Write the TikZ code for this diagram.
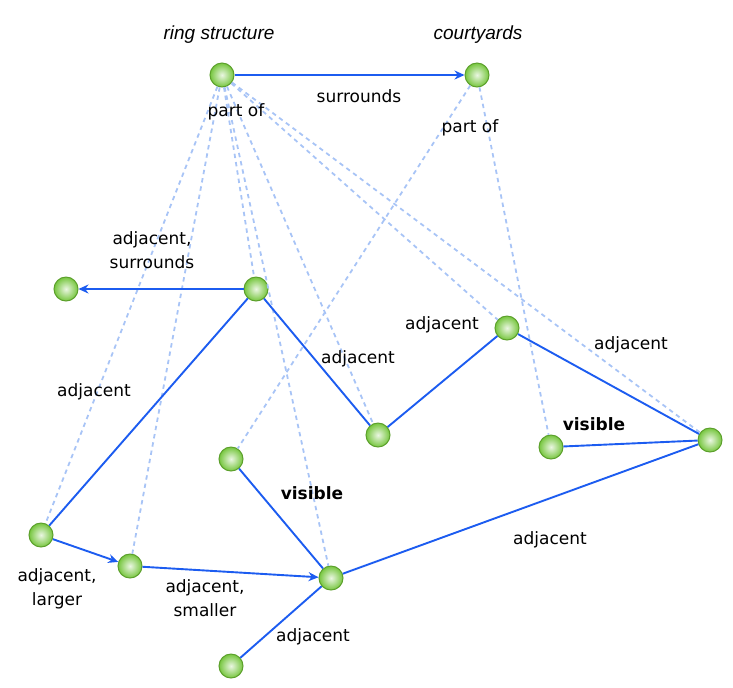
\documentclass[tikz,border=0pt]{standalone}
\usepackage{fontspec}
\setmainfont{DejaVu Sans}
\newfontfamily\titlefont{Liberation Sans}
\usetikzlibrary{arrows.meta}
\definecolor{linkblue}{RGB}{28,92,240}
\definecolor{partblue}{RGB}{168,196,246}
\definecolor{ballgreen}{RGB}{118,198,62}
\definecolor{ballrim}{RGB}{92,160,44}

\begin{document}
\begin{tikzpicture}[x=0.5pt,y=-0.5pt]
      \tikzset{
         ball/.style = {
            circle, draw=ballrim, line width=0.5pt,
            inner sep=0pt, minimum size=12pt,
            inner color=white!85!ballgreen, outer color=ballgreen
         },
         link/.style = {draw=linkblue, line width=0.95pt},
         arrowlink/.style = {link, -{Stealth[length=5pt,width=4.5pt]}},
         partof/.style = {draw=partblue, line width=0.9pt, dash pattern=on 2.2pt off 2pt},
         lbl/.style = {font=\fontsize{8.5}{12}\selectfont, align=center, inner sep=1pt},
         boldlbl/.style = {lbl, font=\fontsize{8.5}{12}\selectfont\bfseries},
         titlelbl/.style = {font=\fontsize{9.5}{12}\selectfont\titlefont\itshape, inner sep=1pt}
      }
      \useasboundingbox (0,0) rectangle (733,687);
      % concepts
      \node[ball] (ring) at (222,75) {};
      \node[ball] (court) at (477,75) {};
      \node[titlelbl] (ringT) at (219,35) {ring structure};
      \node[titlelbl] (courtT) at (478,35) {courtyards};
      % instances
      \node[ball] (west) at (66,289) {};
      \node[ball] (hub) at (256,289) {};
      \node[ball] (peak) at (507,328) {};
      \node[ball] (dip) at (378,435) {};
      \node[ball] (yard) at (551,447) {};
      \node[ball] (east) at (710,440) {};
      \node[ball] (gate) at (231,459) {};
      \node[ball] (big) at (41,535) {};
      \node[ball] (mid) at (130,566) {};
      \node[ball] (core) at (331,578) {};
      \node[ball] (low) at (231,666) {};
      % part of
      \draw[partof] (ring) -- (big);
      \draw[partof] (ring) -- (mid);
      \draw[partof] (ring) -- (hub);
      \draw[partof] (ring) -- (core);
      \draw[partof] (ring) -- (dip);
      \draw[partof] (ring) -- (peak);
      \draw[partof] (ring) -- (east);
      \draw[partof] (court) -- (gate);
      \draw[partof] (court) -- (yard);
      % relations
      \draw[arrowlink] (ring) -- (court);
      \draw[arrowlink] (hub) -- (west);
      \draw[link] (hub) -- (dip);
      \draw[link] (dip) -- (peak);
      \draw[link] (peak) -- (east);
      \draw[link] (yard) -- (east);
      \draw[link] (east) -- (core);
      \draw[link] (hub) -- (big);
      \draw[arrowlink] (big) -- (mid);
      \draw[arrowlink] (mid) -- (core);
      \draw[link] (gate) -- (core);
      \draw[link] (low) -- (core);
      % labels
      \node[lbl] (surL) at (359,96) {surrounds};
      \node[lbl] (partL1) at (236,112) {part of};
      \node[lbl] (partL2) at (470,128) {part of};
      \node[lbl] (westL) at (152,250) {adjacent,\\surrounds};
      \node[lbl] (bigL) at (94,392) {adjacent};
      \node[lbl] (dipL) at (358,359) {adjacent};
      \node[lbl] (peakL) at (442,325) {adjacent};
      \node[lbl] (eastL) at (631,345) {adjacent};
      \node[boldlbl] (yardL) at (594,424) {visible};
      \node[boldlbl] (gateL) at (312,493) {visible};
      \node[lbl] (coreL) at (550,540) {adjacent};
      \node[lbl] (midL) at (57,589) {adjacent,\\larger};
      \node[lbl] (smallL) at (205,598) {adjacent,\\smaller};
      \node[lbl] (lowL) at (313,637) {adjacent};
\end{tikzpicture}
\end{document}
